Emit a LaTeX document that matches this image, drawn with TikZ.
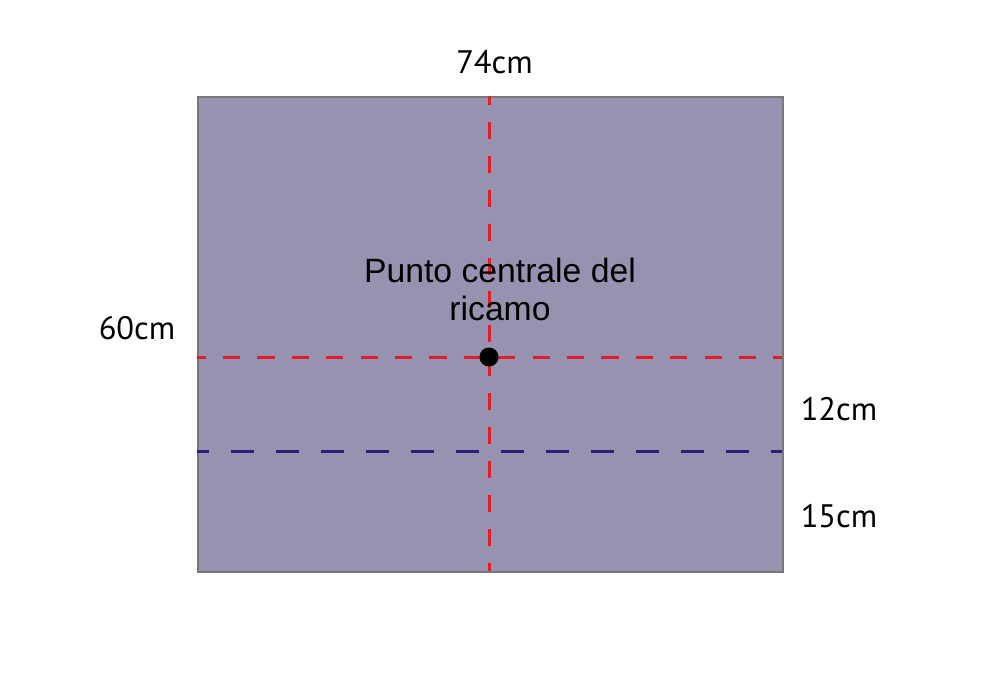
\documentclass[tikz,border=0pt]{standalone}
\usepackage{fontspec}
\setmainfont{Liberation Sans}
\newfontfamily\dimfont{PT Sans}
\definecolor{clothfill}{RGB}{150,146,176}
\definecolor{clothedge}{RGB}{120,120,124}
\definecolor{redline}{RGB}{226,30,38}
\definecolor{blueline}{RGB}{42,32,120}
\begin{document}
\begin{tikzpicture}[x=1pt,y=-1pt,
  dimlabel/.style={font=\dimfont\fontsize{32.5}{38}\selectfont,anchor=base,inner sep=0pt},
  reddash/.style={draw=redline,line width=3pt},
  bluedash/.style={draw=blueline,line width=3pt,dash pattern=on 22.5pt off 22.5pt}]
\useasboundingbox (0,0) rectangle (1000,672);
\node[draw=clothedge,line width=2pt,fill=clothfill,minimum width=585pt,minimum height=475pt,inner sep=0pt,anchor=north west] (cloth) at (197,96) {};
\coordinate (vt) at (489,96);
\coordinate (vb) at (489,571);
\coordinate (hl) at (197,357);
\coordinate (hr) at (782,357);
\coordinate (bl) at (197,451);
\coordinate (br) at (782,451);
\draw[reddash,dash pattern=on 17.2pt off 17.2pt,dash phase=8.4pt] (hl) -- (hr);
\draw[reddash,dash pattern=on 17pt off 16.9pt,dash phase=8pt] (vt) -- (vb);
\draw[bluedash,dash phase=11pt] (bl) -- (br);
\fill[black] (489,357) circle (9.5pt);
\node[coordinate] (center) at (489,357) {};
\node[font=\fontsize{33.7}{38}\selectfont,align=center,anchor=base,inner sep=0pt] (label) at (500,320) {Punto centrale del\\ricamo};
\node[dimlabel] (w) at (494.5,73) {74cm};
\node[dimlabel] (h) at (137,339) {60cm};
\node[dimlabel] (d1) at (839,420) {12cm};
\node[dimlabel] (d2) at (839,527) {15cm};
\end{tikzpicture}
\end{document}
